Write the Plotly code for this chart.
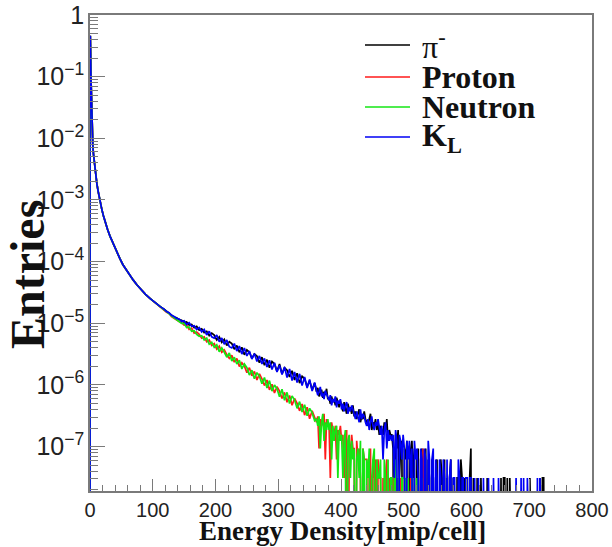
import plotly.graph_objects as go

# ---------------- data ----------------
# bin edges (mip/cell)
head_edges = [0, 1, 2, 3, 4, 5, 6, 8, 10, 12, 14, 16, 18, 20, 23, 26, 30, 34, 38, 42,
              46, 50, 55, 60, 66, 72, 78, 85, 92, 100, 108, 116]
mid_edges = list(range(120, 361, 4))      # 4-mip bins 116-360
tail_edges = list(range(362, 741, 2))     # 2-mip bins 360-740

# common steep part (log10 of entries), all four samples coincide here
head_log = [-0.35, -1.0, -1.5, -1.93, -2.12, -2.25, -2.42, -2.6, -2.74, -2.86,
            -2.97, -3.07, -3.16, -3.26, -3.37, -3.48, -3.59, -3.69, -3.79, -3.88,
            -3.96, -4.05, -4.13, -4.21, -4.30, -4.38, -4.46, -4.53, -4.60, -4.67,
            -4.73]

# 116-360 mip, log10(entries)
pim_mid_log = [-4.77, -4.80, -4.84, -4.86, -4.90, -4.91,
               -4.94, -4.95, -4.99, -4.98, -5.03, -5.02, -5.07, -5.05, -5.11, -5.09,
               -5.15, -5.13, -5.20, -5.16, -5.19, -5.27, -5.22, -5.31, -5.26, -5.36,
               -5.30, -5.33, -5.42, -5.36, -5.47, -5.39, -5.51, -5.43, -5.47, -5.57,
               -5.50, -5.53, -5.64, -5.55, -5.68, -5.59, -5.72, -5.62, -5.66, -5.78,
               -5.66, -5.82, -5.72, -5.76, -5.87, -5.77, -5.92, -5.81, -5.97, -5.86,
               -5.90, -6.03, -5.93, -6.08, -5.97]
kl_mid_log = [-4.77, -4.81, -4.83, -4.87, -4.89, -4.92,
              -4.93, -4.97, -4.96, -5.02, -4.99, -5.05, -5.04, -5.10, -5.07, -5.14,
              -5.10, -5.19, -5.13, -5.22, -5.24, -5.19, -5.30, -5.24, -5.34, -5.27,
              -5.38, -5.40, -5.33, -5.45, -5.37, -5.50, -5.40, -5.53, -5.45, -5.58,
              -5.49, -5.62, -5.53, -5.66, -5.57, -5.71, -5.60, -5.75, -5.64, -5.79,
              -5.68, -5.83, -5.71, -5.88, -5.74, -5.93, -5.79, -5.96, -5.82, -6.01,
              -5.87, -6.05, -5.91, -6.10, -5.96]
neutron_mid_log = [-4.78, -4.81, -4.85, -4.88, -4.91, -4.94,
                   -4.96, -5.00, -5.00, -5.07, -5.06, -5.13, -5.12, -5.18, -5.21, -5.20,
                   -5.27, -5.24, -5.34, -5.31, -5.39, -5.35, -5.46, -5.40, -5.47, -5.55,
                   -5.48, -5.61, -5.55, -5.66, -5.60, -5.74, -5.66, -5.72, -5.84, -5.76,
                   -5.90, -5.80, -5.86, -5.98, -5.88, -6.05, -5.93, -6.10, -6.00, -6.06,
                   -6.19, -6.07, -6.25, -6.12, -6.30, -6.18, -6.24, -6.38, -6.27, -6.44,
                   -6.32, -6.50, -6.38, -6.45, -6.58]
proton_mid_log = [-4.78, -4.82, -4.84, -4.89, -4.92, -4.95,
                  -4.97, -4.99, -5.03, -5.03, -5.10, -5.08, -5.16, -5.14, -5.18, -5.24,
                  -5.22, -5.30, -5.27, -5.36, -5.33, -5.42, -5.37, -5.47, -5.43, -5.51,
                  -5.57, -5.52, -5.63, -5.57, -5.70, -5.64, -5.69, -5.80, -5.72, -5.85,
                  -5.78, -5.92, -5.82, -5.90, -6.01, -5.92, -6.08, -5.99, -6.13, -6.03,
                  -6.10, -6.22, -6.12, -6.28, -6.17, -6.33, -6.22, -6.30, -6.42, -6.31,
                  -6.49, -6.36, -6.55, -6.42, -6.52]

# tail above 360 mip: number of entries per 2-mip bin
ONE_ENTRY = 3.1e-8
pim_tail = [25, 29, 21, 24, 27, 20, 25, 22, 28, 19,
            20, 16, 21, 17, 19, 15, 20, 17, 14, 18,
            15, 12, 17, 13, 11, 16, 13, 14, 11, 15,
            10, 12, 9, 11, 13, 8, 10, 9, 12, 9,
            8, 7, 9, 11, 6, 8, 7, 9, 6, 8,
            5, 7, 6, 5, 8, 6, 9, 4, 6, 5,
            5, 3, 0, 5, 3, 6, 1, 3, 4, 0,
            3, 2, 4, 0, 2, 3, 4, 1, 3, 0,
            2, 3, 0, 2, 3, 0, 1, 3, 0, 2,
            1, 0, 2, 1, 0, 1, 2, 0, 0, 2,
            1, 0, 2, 0, 1, 0, 1, 2, 0, 1,
            0, 0, 1, 1, 0, 2, 1, 0, 1, 0,
            1, 0, 1, 3, 0, 1, 0, 0, 1, 0,
            0, 1, 0, 0, 0, 0, 1, 0, 0, 0,
            0, 0, 0, 0, 0, 0, 0, 1, 0, 1,
            1, 0, 1, 0, 1, 0, 0, 0, 0, 0,
            0, 0, 0, 0, 0, 0, 0, 0, 0, 0,
            1, 0, 0, 0, 0, 0, 0, 0, 1, 0,
            1, 1, 0, 0, 0, 0, 0, 0, 0, 0]
kl_tail = [27, 22, 25, 30, 21, 24, 19, 26, 23, 20,
           18, 22, 15, 19, 17, 21, 14, 18, 16, 19,
           13, 16, 12, 15, 17, 11, 14, 12, 15, 13,
           11, 9, 12, 10, 8, 13, 9, 11, 10, 8,
           7, 9, 6, 8, 10, 7, 6, 8, 7, 9,
           6, 5, 7, 2, 6, 8, 3, 6, 4, 5,
           4, 5, 1, 6, 4, 0, 5, 4, 2, 5,
           3, 0, 4, 2, 4, 1, 3, 0, 4, 2,
           3, 1, 0, 3, 2, 0, 3, 2, 0, 4,
           2, 0, 2, 3, 0, 2, 1, 0, 2, 1,
           0, 2, 1, 0, 2, 0, 1, 2, 0, 1,
           1, 0, 0, 2, 1, 0, 1, 1, 0, 1,
           1, 0, 1, 1, 0, 0, 1, 0, 0, 1,
           0, 0, 0, 1, 0, 0, 0, 1, 0, 0,
           0, 1, 0, 0, 0, 1, 0, 0, 0, 0,
           0, 0, 0, 0, 0, 0, 0, 0, 0, 1,
           0, 0, 0, 1, 0, 1, 0, 0, 1, 0,
           0, 0, 0, 0, 0, 0, 1, 0, 1, 0,
           0, 0, 0, 0, 0, 0, 0, 0, 0, 0]
neutron_tail = [9, 7, 10, 3, 8, 11, 4, 8, 6, 9,
                6, 8, 2, 7, 4, 6, 7, 1, 6, 4,
                5, 1, 4, 6, 0, 4, 5, 1, 4, 2,
                3, 0, 2, 3, 1, 4, 0, 3, 2, 0,
                2, 1, 3, 0, 1, 2, 3, 0, 2, 1,
                1, 2, 0, 0, 2, 1, 0, 2, 0, 1,
                1, 0, 1, 2, 0, 1, 0, 0, 1, 1,
                0, 1, 0, 1, 0, 0, 1, 0, 1, 0,
                1, 0, 0, 0, 1, 0, 0, 0, 0, 0]
proton_tail = [8, 10, 3, 9, 7, 8, 11, 2, 9, 7,
               7, 1, 8, 6, 5, 7, 2, 6, 5, 7,
               4, 5, 1, 4, 6, 0, 4, 2, 5, 3,
               3, 0, 4, 2, 3, 1, 0, 3, 2, 2,
               2, 0, 1, 3, 0, 2, 1, 2, 0, 2,
               1, 1, 0, 1, 0, 1, 2, 0, 1, 0,
               0, 1, 1, 0, 1, 0, 0, 1, 0, 1,
               1, 0, 0, 1, 0, 1, 0, 0, 0, 0,
               0, 0, 0, 0, 0, 3, 0, 0, 0, 0]

series_names = ["\u03c0<sup>-</sup>", "<b>Proton</b>", "<b>Neutron</b>", "<b>K<sub>L</sub></b>"]
series_colors = ["#000000", "#ff1a1a", "#14e614", "#0000f5"]

# ---------------- helpers ----------------
FLOOR = 1e-12


def build(mid_log, tail_counts):
    vals = [10 ** v for v in head_log] + [10 ** v for v in mid_log]
    vals += [c * ONE_ENTRY if c > 0 else FLOOR for c in tail_counts]
    edges = head_edges + mid_edges + tail_edges[:len(tail_counts)]
    centers = [(a + b) / 2 for a, b in zip(edges[:-1], edges[1:])]
    x = [0, 0] + centers + [edges[-1]]
    y = [FLOOR, vals[0]] + vals + [FLOOR]
    return x, y


data = [(pim_mid_log, pim_tail), (proton_mid_log, proton_tail),
        (neutron_mid_log, neutron_tail), (kl_mid_log, kl_tail)]

fig = go.Figure()
for (mid, tail), name, col in zip(data, series_names, series_colors):
    x, y = build(mid, tail)
    fig.add_trace(go.Scatter(x=x, y=y, mode="lines", line=dict(color=col, width=1.7),
                             name=name, showlegend=False, hoverinfo="skip"))

AX = "#7a7a7a"
TICKFONT = dict(family="Liberation Sans, Arial, sans-serif", size=20, color="#222222")

fig.update_xaxes(range=[0, 800], tickmode="linear", tick0=0, dtick=100, automargin=False,
                 ticks="inside", ticklen=12, tickwidth=1.2, tickcolor=AX,
                 minor=dict(dtick=20, ticks="inside", ticklen=6, tickwidth=1.2, tickcolor=AX),
                 showline=True, linecolor=AX, linewidth=1.6, mirror=True,
                 showgrid=False, zeroline=False, tickfont=TICKFONT)
fig.update_yaxes(type="log", range=[-7.72, 0], tickmode="linear", dtick=1, automargin=False,
                 exponentformat="power",
                 ticks="inside", ticklen=15, tickwidth=1.2, tickcolor=AX,
                 minor=dict(ticks="inside", ticklen=8, tickwidth=1.0, tickcolor=AX, showgrid=False),
                 showline=True, linecolor=AX, linewidth=1.6, mirror=True,
                 showgrid=False, zeroline=False, tickfont=TICKFONT)

# plot area in pixels: x 90-592, y 15-491
W, H = 612, 547
L, R, T, B = 90, 20, 15, 56
pw, ph = W - L - R, H - T - B


def px(xp):
    return (xp - L) / pw


def py(yp):
    return (H - B - yp) / ph


# axis titles
SERIF = "Liberation Serif, Times New Roman, serif"
fig.add_annotation(text="<b>Energy Density[mip/cell]</b>", x=px(342), y=py(531),
                   xref="paper", yref="paper", xanchor="center", yanchor="middle",
                   showarrow=False, font=dict(family=SERIF, size=27, color="#111111"))
fig.add_annotation(text="<b>Entries</b>", x=px(27), y=py(275), textangle=-90,
                   xref="paper", yref="paper", xanchor="center", yanchor="middle",
                   showarrow=False, font=dict(family=SERIF, size=48, color="#111111"))

# legend
leg_y = [45, 77, 107, 137]
for name, col, yy in zip(series_names, series_colors, leg_y):
    fig.add_shape(type="line", xref="paper", yref="paper", x0=px(365), x1=px(410),
                  y0=py(yy), y1=py(yy), line=dict(color=col, width=1.5))
    fig.add_annotation(text=name, x=px(420), y=py(yy), xref="paper", yref="paper",
                       xanchor="left", yanchor="middle", showarrow=False,
                       font=dict(family=SERIF, size=32, color="#111111"))

fig.update_layout(width=W, height=H, margin=dict(l=L, r=R, t=T, b=B),
                  paper_bgcolor="white", plot_bgcolor="white", showlegend=False)

fig.write_html("out.html")
